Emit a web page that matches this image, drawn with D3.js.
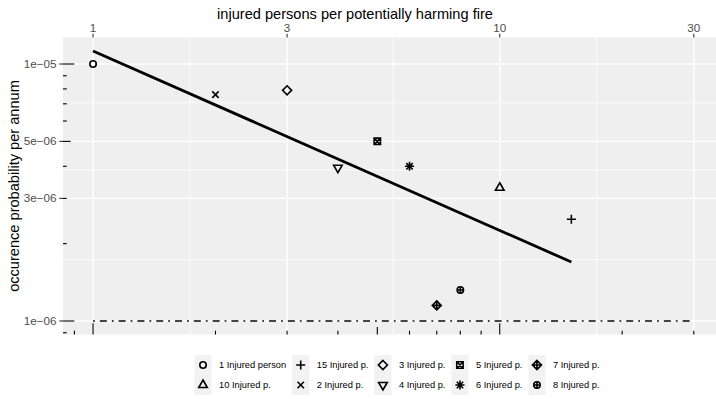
<!DOCTYPE html>
<html>
<head>
<meta charset="utf-8">
<script src="https://cdn.jsdelivr.net/npm/d3@7"></script>
<style>
  body { margin: 0; background: #fff; }
  svg { display: block; font-family: "Liberation Sans", Arial, sans-serif; }
</style>
</head>
<body>
<div id="chart"></div>
<script>
// Fire data: legend label, injured persons, occurence probability, point shape (R pch)
var labels = ["1 Injured person", "10 Injured p.", "15 Injured p.", "2 Injured p.", "3 Injured p.",
              "4 Injured p.", "5 Injured p.", "6 Injured p.", "7 Injured p.", "8 Injured p."];
var injured = [1, 10, 15, 2, 3, 4, 5, 6, 7, 8];
var probability = [1.0e-5, 3.3e-6, 2.49e-6, 7.6e-6, 7.9e-6, 3.95e-6, 5.0e-6, 4.0e-6, 1.15e-6, 1.32e-6];
var shapes = [1, 2, 3, 4, 5, 6, 7, 8, 9, 10];

// reference limit line (dot-dash)
var limitX = [1, 30];
var limitY = 1e-6;

// axis breaks
var xBreaks = [1, 3, 10, 30];
var yBreaks = [1e-6, 3e-6, 5e-6, 1e-5];
var yBreakLabels = ["1e\u221206", "3e\u221206", "5e\u221206", "1e\u221205"];

var width = 716, height = 399;
var margin = {left: 63, top: 37.5, bottom: 334.5};

// log-log least squares fit
var lx = injured.map(function(d) { return Math.log10(d); });
var ly = probability.map(function(d) { return Math.log10(d); });
var mx = d3.mean(lx), my = d3.mean(ly);
var sxy = d3.sum(lx, function(d, i) { return (d - mx) * (ly[i] - my); });
var sxx = d3.sum(lx, function(d) { return (d - mx) * (d - mx); });
var slope = sxy / sxx, icept = my - slope * mx;
var fit = function(x) { return Math.pow(10, icept + slope * Math.log10(x)); };
var fitX = d3.extent(injured);

// ggplot style 5% expansion on the log scales
function expandLog(lo, hi) {
    var a = Math.log10(lo), b = Math.log10(hi), e = (b - a) * 0.05;
    return [Math.pow(10, a - e), Math.pow(10, b + e)];
}
var xDom = expandLog(d3.min(injured.concat(limitX)), d3.max(injured.concat(limitX)));
var yAll = probability.concat([limitY, fit(fitX[0]), fit(fitX[1])]);
var yDom = expandLog(d3.min(yAll), d3.max(yAll));

// keep pixels per decade equal to the reference panel
var pxPerDecadeX = 406.7;
var panelRight = margin.left + pxPerDecadeX * (Math.log10(xDom[1]) - Math.log10(xDom[0]));

var x = d3.scaleLog().domain(xDom).range([margin.left, panelRight]);
var y = d3.scaleLog().domain(yDom).range([margin.bottom, margin.top]);

var svg = d3.select("#chart").append("svg")
    .attr("width", width)
    .attr("height", height);

svg.append("rect")
    .attr("x", margin.left).attr("y", margin.top)
    .attr("width", panelRight - margin.left)
    .attr("height", margin.bottom - margin.top)
    .attr("fill", "#efefef");

// minor grid at geometric mid points between breaks
function minors(breaks) {
    var out = [];
    for (var i = 0; i < breaks.length - 1; i++) out.push(Math.sqrt(breaks[i] * breaks[i + 1]));
    return out;
}
var grid = svg.append("g");
grid.selectAll(".xminor").data(minors(xBreaks)).join("line")
    .attr("x1", function(d) { return x(d); }).attr("x2", function(d) { return x(d); })
    .attr("y1", margin.top).attr("y2", margin.bottom)
    .attr("stroke", "#fff").attr("stroke-width", 0.8);
grid.selectAll(".yminor").data(minors(yBreaks)).join("line")
    .attr("y1", function(d) { return y(d); }).attr("y2", function(d) { return y(d); })
    .attr("x1", margin.left).attr("x2", panelRight)
    .attr("stroke", "#fff").attr("stroke-width", 0.8);
grid.selectAll(".xmajor").data(xBreaks).join("line")
    .attr("x1", function(d) { return x(d); }).attr("x2", function(d) { return x(d); })
    .attr("y1", margin.top).attr("y2", margin.bottom)
    .attr("stroke", "#fff").attr("stroke-width", 1.42);
grid.selectAll(".ymajor").data(yBreaks).join("line")
    .attr("y1", function(d) { return y(d); }).attr("y2", function(d) { return y(d); })
    .attr("x1", margin.left).attr("x2", panelRight)
    .attr("stroke", "#fff").attr("stroke-width", 1.42);

// log ticks inside the panel (bottom and left)
function logTicks(dom) {
    var out = [];
    var lo = Math.floor(Math.log10(dom[0])), hi = Math.ceil(Math.log10(dom[1]));
    for (var e = lo; e <= hi; e++) {
        for (var m = 1; m <= 9; m++) {
            var v = m * Math.pow(10, e);
            if (v >= dom[0] && v <= dom[1]) out.push({v: v, m: m});
        }
    }
    return out;
}
function tickLen(m) { return m === 1 ? 11.3 : (m === 5 ? 7.6 : 3.8); }

svg.append("g").selectAll("line").data(logTicks(xDom)).join("line")
    .attr("x1", function(d) { return x(d.v); }).attr("x2", function(d) { return x(d.v); })
    .attr("y1", margin.bottom).attr("y2", function(d) { return margin.bottom - tickLen(d.m); })
    .attr("stroke", "#000").attr("stroke-width", 1.1);
svg.append("g").selectAll("line").data(logTicks(yDom)).join("line")
    .attr("y1", function(d) { return y(d.v); }).attr("y2", function(d) { return y(d.v); })
    .attr("x1", margin.left).attr("x2", function(d) { return margin.left + tickLen(d.m); })
    .attr("stroke", "#000").attr("stroke-width", 1.1);

// limit line
svg.append("line")
    .attr("x1", x(limitX[0])).attr("x2", x(limitX[1]))
    .attr("y1", y(limitY)).attr("y2", y(limitY))
    .attr("stroke", "#444").attr("stroke-width", 1.8)
    .attr("stroke-dasharray", "1.8,5,7,5");

// fitted line
svg.append("path")
    .datum(fitX)
    .attr("d", d3.line().x(function(d) { return x(d); }).y(function(d) { return y(fit(d)); }))
    .attr("fill", "none").attr("stroke", "#000").attr("stroke-width", 2.8);

// R pch symbols as svg paths
function pchPath(pch, r) {
    var s = Math.SQRT2 * r;
    var t0 = 1.55512030155621416 * r, t1 = 1.34677368708859836 * r, t2 = 0.77756015077810708 * r;
    var circle = function(c) { return "M" + c + ",0A" + c + "," + c + " 0 1,1 " + (-c) + ",0A" + c + "," + c + " 0 1,1 " + c + ",0Z"; };
    var plus = function(c) { return "M" + (-c) + ",0H" + c + "M0," + (-c) + "V" + c; };
    var cross = function(c) { return "M" + (-c) + "," + (-c) + "L" + c + "," + c + "M" + (-c) + "," + c + "L" + c + "," + (-c); };
    var diamond = function(c) { return "M0," + (-c) + "L" + c + ",0L0," + c + "L" + (-c) + ",0Z"; };
    switch (pch) {
        case 1: return circle(r);
        case 2: return "M0," + (-t0) + "L" + t1 + "," + t2 + "L" + (-t1) + "," + t2 + "Z";
        case 3: return plus(s);
        case 4: return cross(r);
        case 5: return diamond(s);
        case 6: return "M0," + t0 + "L" + t1 + "," + (-t2) + "L" + (-t1) + "," + (-t2) + "Z";
        case 7: return "M" + (-r) + "," + (-r) + "H" + r + "V" + r + "H" + (-r) + "Z" + cross(r);
        case 8: return cross(r) + plus(s);
        case 9: return diamond(s) + plus(s);
        case 10: return circle(r) + plus(r);
    }
}
var pr = 3.2, pStroke = 1.6;

svg.append("g").selectAll("path").data(injured).join("path")
    .attr("transform", function(d, i) { return "translate(" + x(d) + "," + y(probability[i]) + ")"; })
    .attr("d", function(d, i) { return pchPath(shapes[i], pr); })
    .attr("fill", "none").attr("stroke", "#000").attr("stroke-width", pStroke);

// top x axis
var xAxis = svg.append("g");
xAxis.selectAll("line").data(xBreaks).join("line")
    .attr("x1", function(d) { return x(d); }).attr("x2", function(d) { return x(d); })
    .attr("y1", margin.top - 3.7).attr("y2", margin.top)
    .attr("stroke", "#333").attr("stroke-width", 1.1);
xAxis.selectAll("text").data(xBreaks).join("text")
    .attr("x", function(d) { return x(d); }).attr("y", 31.5)
    .attr("text-anchor", "middle")
    .attr("fill", "#4d4d4d").style("font-size", "11.7px")
    .text(function(d) { return d; });
svg.append("text")
    .attr("x", 355).attr("y", 18.5)
    .attr("text-anchor", "middle")
    .style("font-size", "14.6px")
    .text("injured persons per potentially harming fire");

// left y axis
var yAxis = svg.append("g");
yAxis.selectAll("line").data(yBreaks).join("line")
    .attr("y1", function(d) { return y(d); }).attr("y2", function(d) { return y(d); })
    .attr("x1", margin.left - 3.7).attr("x2", margin.left)
    .attr("stroke", "#333").attr("stroke-width", 1.1);
yAxis.selectAll("text").data(yBreaks).join("text")
    .attr("x", margin.left - 6.5).attr("y", function(d) { return y(d); })
    .attr("dy", "0.35em")
    .attr("text-anchor", "end")
    .attr("fill", "#4d4d4d").style("font-size", "11.7px")
    .text(function(d, i) { return yBreakLabels[i]; });
svg.append("text")
    .attr("transform", "translate(18.5," + ((margin.top + margin.bottom) / 2) + ") rotate(-90)")
    .attr("text-anchor", "middle")
    .style("font-size", "14.6px")
    .text("occurence probability per annum");

// legend, 2 rows, filled by column
var keyW = 17, keyH = 20, textGap = 7.5, colGap = 6;
var legendTop = 355, legendCenter = 397;
var legend = svg.append("g");
var nRows = 2, nCols = Math.ceil(labels.length / nRows);
var items = legend.selectAll("g").data(labels).join("g");
items.append("rect")
    .attr("width", keyW).attr("height", keyH)
    .attr("fill", "#f2f2f2");
items.append("path")
    .attr("transform", "translate(" + keyW / 2 + "," + keyH / 2 + ")")
    .attr("d", function(d, i) { return pchPath(shapes[i], pr); })
    .attr("fill", "none").attr("stroke", "#000").attr("stroke-width", pStroke);
items.append("text")
    .attr("x", keyW + textGap).attr("y", keyH / 2).attr("dy", "0.35em")
    .style("font-size", "9.3px")
    .text(function(d) { return d; });

// column widths from the widest label in each column
var textW = [];
items.select("text").each(function() { textW.push(this.getComputedTextLength()); });
var colX = [], cx = 0;
for (var c = 0; c < nCols; c++) {
    colX.push(cx);
    var w = d3.max(textW.slice(c * nRows, c * nRows + nRows));
    cx += keyW + textGap + w + colGap;
}
var totalW = cx - colGap;
var legendLeft = legendCenter - totalW / 2;
items.attr("transform", function(d, i) {
    var col = Math.floor(i / nRows), row = i % nRows;
    return "translate(" + (legendLeft + colX[col]) + "," + (legendTop + row * keyH) + ")";
});
</script>
</body>
</html>
